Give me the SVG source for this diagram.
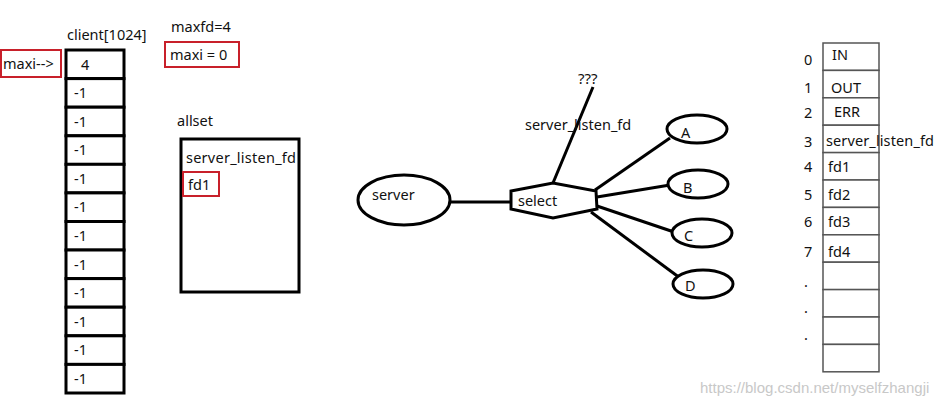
<svg xmlns="http://www.w3.org/2000/svg" width="946" height="404" viewBox="0 0 946 404">
<style>
text{font-family:"Noto Sans","Open Sans","Liberation Sans",sans-serif;font-size:14.5px;fill:#111}
.cell{fill:#fff;stroke:#000;stroke-width:3}
.red{fill:none;stroke:#c8202a;stroke-width:2}
.thick{fill:#fff;stroke:#000;stroke-width:3}
.tcell{fill:#fff;stroke:#555;stroke-width:1.5}
.conn{stroke:#000;stroke-width:3;fill:none}
.wm{fill:#c8c8c8;font-family:"Liberation Sans",sans-serif;font-size:15px}
</style>
<rect width="946" height="404" fill="#fff"/>

<g id="labels-top">
<text x="67" y="40">client[1024]</text>
<text x="171" y="32">maxfd=4</text>
<rect class="red" x="165" y="42" width="74" height="25"/>
<text x="170" y="60">maxi = 0</text>
<rect class="red" x="1" y="50" width="60" height="27"/>
<text x="3" y="69">maxi--&gt;</text>
</g>

<g id="client-array">
<rect class="cell" x="66" y="50" width="58" height="28.6"/>
<rect class="cell" x="66" y="78.6" width="58" height="28.6"/>
<rect class="cell" x="66" y="107.2" width="58" height="28.6"/>
<rect class="cell" x="66" y="135.8" width="58" height="28.6"/>
<rect class="cell" x="66" y="164.3" width="58" height="28.6"/>
<rect class="cell" x="66" y="192.9" width="58" height="28.6"/>
<rect class="cell" x="66" y="221.5" width="58" height="28.6"/>
<rect class="cell" x="66" y="250" width="58" height="28.6"/>
<rect class="cell" x="66" y="278.6" width="58" height="28.6"/>
<rect class="cell" x="66" y="307.2" width="58" height="28.6"/>
<rect class="cell" x="66" y="335.8" width="58" height="28.6"/>
<rect class="cell" x="66" y="364.4" width="58" height="28.6"/>
<text x="81" y="70">4</text>
<text x="74" y="98">-1</text>
<text x="74" y="127">-1</text>
<text x="74" y="155">-1</text>
<text x="74" y="184">-1</text>
<text x="74" y="212">-1</text>
<text x="74" y="241">-1</text>
<text x="74" y="270">-1</text>
<text x="74" y="298">-1</text>
<text x="74" y="327">-1</text>
<text x="74" y="355">-1</text>
<text x="74" y="384">-1</text>
</g>

<g id="allset">
<text x="177" y="126">allset</text>
<rect class="thick" x="181" y="139" width="118" height="153"/>
<text x="186" y="163" textLength="110">server_listen_fd</text>
<rect class="red" x="183" y="172" width="36" height="24"/>
<text x="188" y="190">fd1</text>
</g>

<g id="connectors">
<line class="conn" x1="451" y1="202" x2="511" y2="202"/>
<line class="conn" x1="553" y1="183" x2="593" y2="87"/>
<line class="conn" x1="595" y1="190" x2="670" y2="138"/>
<line class="conn" x1="597" y1="197" x2="670" y2="185"/>
<line class="conn" x1="597" y1="206" x2="674" y2="232"/>
<line class="conn" x1="591" y1="212" x2="680" y2="278"/>
</g>

<g id="server">
<ellipse class="thick" cx="404" cy="200" rx="46" ry="25"/>
<text x="372" y="200">server</text>
</g>

<g id="select">
<polygon class="thick" points="511,191 553,183 596,191 597,209 553,218 511,209"/>
<text x="518" y="206">select</text>
</g>

<g id="listen-label">
<text x="578" y="84" style="font-size:15px">???</text>
<text x="525" y="130">server_listen_fd</text>
</g>

<g id="A"><ellipse class="thick" cx="697" cy="129" rx="30" ry="14"/><text x="681" y="138">A</text></g>
<g id="B"><ellipse class="thick" cx="698" cy="184" rx="30" ry="14"/><text x="683" y="193">B</text></g>
<g id="C"><ellipse class="thick" cx="702" cy="233" rx="30" ry="14"/><text x="684" y="241">C</text></g>
<g id="D"><ellipse class="thick" cx="703" cy="284" rx="30" ry="14"/><text x="685" y="291">D</text></g>

<g id="fd-table">
<rect class="tcell" x="823" y="43" width="56" height="27.4"/>
<rect class="tcell" x="823" y="70.4" width="56" height="27.4"/>
<rect class="tcell" x="823" y="97.8" width="56" height="27.4"/>
<rect class="tcell" x="823" y="125.2" width="56" height="27.4"/>
<rect class="tcell" x="823" y="152.6" width="56" height="27.4"/>
<rect class="tcell" x="823" y="180" width="56" height="27.4"/>
<rect class="tcell" x="823" y="207.4" width="56" height="27.4"/>
<rect class="tcell" x="823" y="234.8" width="56" height="27.4"/>
<rect class="tcell" x="823" y="262.2" width="56" height="27.4"/>
<rect class="tcell" x="823" y="289.6" width="56" height="27.4"/>
<rect class="tcell" x="823" y="317" width="56" height="27.4"/>
<rect class="tcell" x="823" y="344.4" width="56" height="27.4"/>
<text x="804" y="65">0</text>
<text x="804" y="93">1</text>
<text x="804" y="118">2</text>
<text x="804" y="147">3</text>
<text x="804" y="172">4</text>
<text x="804" y="200">5</text>
<text x="804" y="227">6</text>
<text x="804" y="257">7</text>
<text x="804" y="287">.</text>
<text x="804" y="313">.</text>
<text x="804" y="340">.</text>
<text x="832" y="60">IN</text>
<text x="831" y="93">OUT</text>
<text x="834" y="117">ERR</text>
<text x="826" y="146" textLength="108">server_listen_fd</text>
<text x="828" y="172">fd1</text>
<text x="828" y="200">fd2</text>
<text x="828" y="227">fd3</text>
<text x="828" y="257">fd4</text>
</g>

<g id="watermark">
<text class="wm" x="700" y="393">https://blog.csdn.net/myselfzhangji</text>
</g>
</svg>
